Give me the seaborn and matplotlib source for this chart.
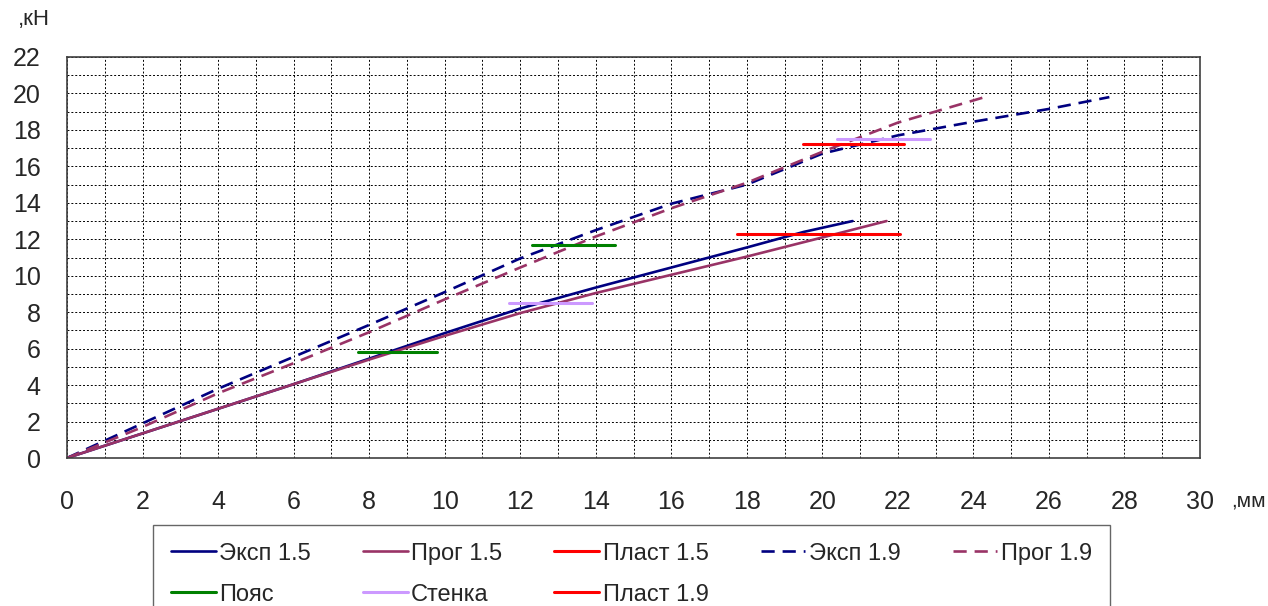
import numpy as np
import pandas as pd
import matplotlib
matplotlib.use("Agg")
import matplotlib.pyplot as plt
import seaborn as sns

# === данные ===
exp15_x = [0, 2, 4, 6, 8, 10, 12, 14, 16, 18, 19.5, 20.8]
exp15_y = [0, 1.35, 2.7, 4.05, 5.45, 6.85, 8.2, 9.35, 10.45, 11.55, 12.4, 13.0]
prog15_x = [0, 2, 4, 6, 8, 10, 12, 14, 16, 18, 20, 21.7]
prog15_y = [0, 1.35, 2.7, 4.05, 5.4, 6.7, 7.95, 9.05, 10.05, 11.05, 12.1, 13.0]
exp19_x = [0, 2, 4, 6, 8, 10, 12, 14, 16, 18, 20, 22, 24, 26, 27.6]
exp19_y = [0, 1.9, 3.8, 5.55, 7.3, 9.1, 10.95, 12.5, 13.95, 15.0, 16.7, 17.7, 18.45, 19.15, 19.8]
prog19_x = [0, 2, 4, 6, 8, 10, 12, 14, 16, 18, 20, 22, 24.3]
prog19_y = [0, 1.7, 3.55, 5.2, 6.9, 8.7, 10.45, 12.15, 13.7, 15.1, 16.8, 18.4, 19.8]

# горизонтальные отрезки: (x_начало, x_конец, y)
poyas_segs = [(7.7, 9.8, 5.8), (12.3, 14.5, 11.7)]
stenka_segs = [(11.7, 13.9, 8.5), (20.4, 22.85, 17.5)]
plast15_segs = [(17.75, 22.05, 12.3)]
plast19_segs = [(19.5, 22.15, 17.2)]

x_ticks = list(range(0, 31, 2))
y_ticks = list(range(0, 23, 2))

colors = {
    'Эксп 1.5': '#000080', 'Прог 1.5': '#993366', 'Пласт 1.5': '#ff0000',
    'Эксп 1.9': '#000080', 'Прог 1.9': '#993366',
    'Пояс': '#008000', 'Стенка': '#cc99ff', 'Пласт 1.9': '#ff0000',
}

sns.set_style("white")
plt.rcParams['font.family'] = ['Liberation Sans', 'DejaVu Sans']
plt.rcParams['font.size'] = 17

fig = plt.figure(figsize=(12.68, 6.06), dpi=100)
ax = fig.add_axes([67 / 1268, 1 - 458 / 606, (1200 - 67) / 1268, (458 - 57) / 606])

curves = [
    ('Эксп 1.5', exp15_x, exp15_y, ''),
    ('Прог 1.5', prog15_x, prog15_y, ''),
    ('Эксп 1.9', exp19_x, exp19_y, (5, 3)),
    ('Прог 1.9', prog19_x, prog19_y, (5, 3)),
]
handles = {}
for name, xs, ys, dash in curves:
    df = pd.DataFrame({'x': xs, 'y': ys})
    sns.lineplot(data=df, x='x', y='y', ax=ax, color=colors[name], lw=1.9,
                 sort=False, estimator=None, label=name)
    line = ax.get_lines()[-1]
    if dash:
        line.set_dashes(dash)
    handles[name] = line

segments = [
    ('Пояс', poyas_segs), ('Стенка', stenka_segs),
    ('Пласт 1.5', plast15_segs), ('Пласт 1.9', plast19_segs),
]
for name, segs in segments:
    rows = []
    for i, (x0, x1, yv) in enumerate(segs):
        rows.append({'x': x0, 'y': yv, 'seg': i})
        rows.append({'x': x1, 'y': yv, 'seg': i})
    df = pd.DataFrame(rows)
    sns.lineplot(data=df, x='x', y='y', units='seg', ax=ax, color=colors[name],
                 lw=2.2, sort=False, estimator=None, label=name)
    handles[name] = ax.get_lines()[-1]

ax.set_xlim(0, 30)
ax.set_ylim(0, 22)
ax.set_xticks(x_ticks)
ax.set_yticks(y_ticks)
ax.set_xticks(np.arange(0, 31, 1), minor=True)
ax.set_yticks(np.arange(0, 23, 1), minor=True)
ax.grid(which='both', color='black', linestyle=(0, (2, 2)), linewidth=0.7)
ax.set_axisbelow(True)
ax.tick_params(which='major', direction='out', length=8, width=1.2, color='#404040')
ax.tick_params(which='minor', length=0)
ax.tick_params(axis='x', pad=15, labelsize=18)
ax.tick_params(axis='y', pad=11, labelsize=18)
for sp in ax.spines.values():
    sp.set_color('#404040')
    sp.set_linewidth(1.2)
ax.set_xlabel('')
ax.set_ylabel('')

fig.text(18 / 1268, 1 - 19 / 606, ',кН', fontsize=16, va='center', ha='left')
fig.text(1231 / 1268, 1 - 501 / 606, ',мм', fontsize=15, va='center', ha='left')

order = ['Эксп 1.5', 'Пояс', 'Прог 1.5', 'Стенка', 'Пласт 1.5', 'Пласт 1.9',
         'Эксп 1.9', 'Прог 1.9']
leg = ax.legend([handles[n] for n in order], order, ncol=5, loc='upper left',
                bbox_to_anchor=(153 / 1268, 1 - 525 / 606), bbox_transform=fig.transFigure,
                borderaxespad=0, frameon=True, fancybox=False, edgecolor='#404040',
                fontsize=17, handlelength=1.9, handletextpad=0.15, columnspacing=2.2,
                labelspacing=0.8, borderpad=0.75)
leg.get_frame().set_linewidth(1.0)

fig.savefig('out.png', dpi=100)
